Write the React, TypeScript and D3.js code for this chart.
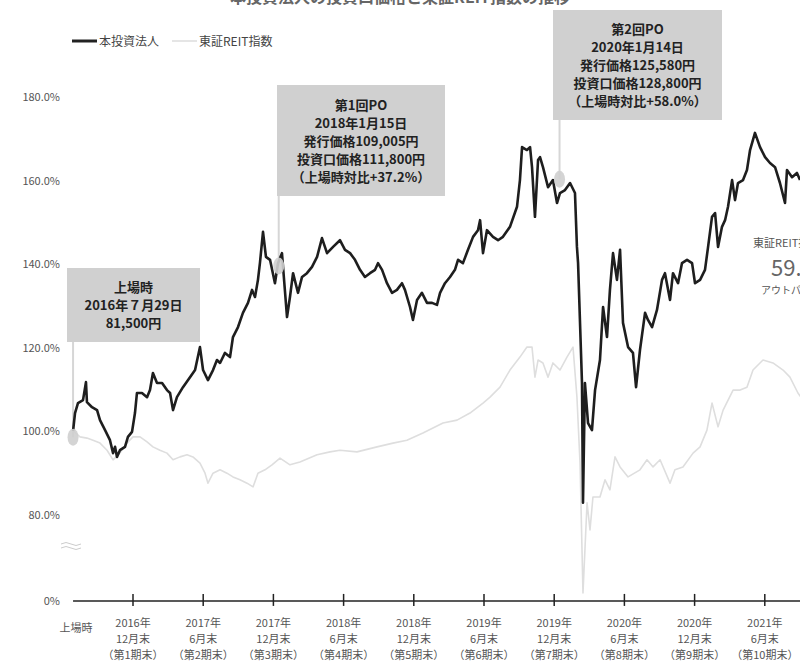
import React from "react";
import * as d3 from "d3";

// ---- data (time as decimal year, values as % of listing price) ----
const fundT = [2016.573,2016.587,2016.608,2016.644,2016.665,2016.672,2016.708,2016.744,2016.765,2016.801,2016.836,2016.858,2016.872,2016.886,2016.907,2016.943,2016.964,2016.993,2017.014,2017.028,2017.064,2017.100,2017.121,2017.142,2017.171,2017.207,2017.242,2017.264,2017.285,2017.313,2017.356,2017.406,2017.442,2017.477,2017.499,2017.534,2017.570,2017.598,2017.620,2017.655,2017.691,2017.712,2017.748,2017.783,2017.819,2017.848,2017.869,2017.890,2017.904,2017.926,2017.947,2017.976,2018.011,2018.033,2018.061,2018.097,2018.118,2018.140,2018.175,2018.204,2018.239,2018.275,2018.311,2018.346,2018.382,2018.425,2018.474,2018.510,2018.546,2018.581,2018.617,2018.652,2018.688,2018.724,2018.745,2018.774,2018.809,2018.845,2018.880,2018.916,2018.937,2018.973,2018.994,2019.023,2019.058,2019.094,2019.130,2019.165,2019.187,2019.222,2019.258,2019.293,2019.315,2019.350,2019.386,2019.422,2019.457,2019.472,2019.493,2019.521,2019.564,2019.600,2019.635,2019.685,2019.735,2019.756,2019.771,2019.806,2019.828,2019.842,2019.863,2019.885,2019.899,2019.920,2019.956,2019.991,2020.020,2020.041,2020.077,2020.113,2020.148,2020.162,2020.170,2020.198,2020.205,2020.219,2020.241,2020.269,2020.291,2020.326,2020.348,2020.376,2020.397,2020.419,2020.447,2020.469,2020.490,2020.526,2020.561,2020.583,2020.611,2020.647,2020.668,2020.697,2020.732,2020.768,2020.789,2020.825,2020.846,2020.882,2020.910,2020.946,2020.982,2021.003,2021.039,2021.074,2021.096,2021.124,2021.146,2021.167,2021.195,2021.217,2021.238,2021.267,2021.288,2021.309,2021.345,2021.373,2021.395,2021.430,2021.466,2021.502,2021.537,2021.573,2021.608,2021.644,2021.658,2021.694,2021.729,2021.751];
const fundV = [100.0,104.3,106.7,107.4,111.7,106.9,105.7,105.0,102.6,100.2,97.8,94.7,96.2,93.8,95.4,96.2,98.6,99.8,104.3,109.1,109.1,108.1,109.8,113.9,111.5,111.5,109.8,109.1,105.0,108.1,110.5,112.9,114.6,120.1,114.6,112.2,114.6,117.0,116.3,118.7,117.7,122.5,124.9,128.3,130.7,133.8,132.1,136.2,140.2,147.7,141.7,141.0,135.4,140.2,142.6,127.3,132.1,137.8,133.1,136.9,137.8,139.3,141.7,146.2,142.6,144.1,145.7,143.4,142.6,141.0,138.6,136.9,137.8,138.6,140.2,138.6,135.4,133.1,133.8,135.4,133.8,129.7,126.6,131.4,133.1,130.7,130.7,130.2,133.1,135.4,136.9,138.6,141.0,140.2,143.4,146.5,148.1,150.5,142.6,148.1,146.5,145.7,146.5,148.9,153.7,160.1,168.0,167.3,168.0,163.2,151.3,164.9,165.6,163.2,158.4,160.1,154.6,157.0,157.7,159.4,157.0,144.1,140.2,111.5,82.8,111.5,101.9,100.2,109.8,117.0,129.7,122.5,133.8,142.6,136.2,143.4,125.9,120.1,118.7,110.5,119.4,128.3,126.6,124.9,129.0,136.2,137.8,131.4,137.8,135.4,140.2,141.0,140.2,135.4,136.2,138.6,144.1,151.3,152.2,144.1,148.9,150.5,153.7,160.1,155.3,159.4,160.1,162.5,167.3,171.4,168.0,165.6,164.2,163.2,159.4,154.6,162.5,160.8,161.8,160.1];

const reitT = [2016.573,2016.623,2016.672,2016.715,2016.765,2016.815,2016.858,2016.907,2016.957,2017.000,2017.050,2017.100,2017.142,2017.192,2017.242,2017.285,2017.335,2017.385,2017.427,2017.477,2017.513,2017.534,2017.570,2017.620,2017.669,2017.712,2017.762,2017.812,2017.855,2017.890,2017.940,2017.990,2018.047,2018.118,2018.189,2018.311,2018.403,2018.474,2018.595,2018.738,2018.852,2018.951,2019.065,2019.208,2019.308,2019.400,2019.493,2019.543,2019.614,2019.685,2019.756,2019.806,2019.842,2019.863,2019.885,2019.920,2019.956,2019.991,2020.041,2020.091,2020.134,2020.162,2020.184,2020.205,2020.234,2020.255,2020.276,2020.326,2020.362,2020.397,2020.433,2020.469,2020.526,2020.611,2020.661,2020.704,2020.754,2020.825,2020.860,2020.917,2020.989,2021.039,2021.088,2021.124,2021.167,2021.203,2021.274,2021.324,2021.373,2021.416,2021.487,2021.558,2021.630,2021.679,2021.736,2021.760];
const reitV = [100.0,98.6,98.3,97.8,97.1,95.4,93.1,94.7,97.1,98.6,98.6,97.4,96.2,95.4,94.7,93.1,93.8,94.3,93.8,92.3,89.9,87.5,89.9,90.7,89.9,89.0,88.3,87.5,86.6,89.9,90.7,91.9,93.5,91.9,92.6,94.3,95.0,95.4,95.0,96.2,97.1,97.8,99.5,101.9,102.6,104.3,106.7,108.1,110.5,114.6,117.7,120.1,120.1,112.9,117.0,116.3,112.9,116.3,114.6,117.7,120.1,108.1,92.3,61.2,82.8,76.3,84.2,84.2,88.3,85.9,93.8,91.4,89.0,90.7,93.1,91.4,93.1,87.5,90.7,91.4,94.7,96.2,100.2,106.7,101.0,105.0,109.8,109.8,110.5,114.6,117.0,116.3,114.6,112.9,109.1,108.0];

const yTicks = [80, 100, 120, 140, 160, 180];
const axisFloor = 59.3; // broken axis shown as "0%"
const xTicks = [2017, 2017.5, 2018, 2018.5, 2019, 2019.5, 2020, 2020.5, 2021, 2021.5];
const xTickLabels = [
  ["2016年", "12月末", "（第1期末）"],
  ["2017年", "6月末", "（第2期末）"],
  ["2017年", "12月末", "（第3期末）"],
  ["2018年", "6月末", "（第4期末）"],
  ["2018年", "12月末", "（第5期末）"],
  ["2019年", "6月末", "（第6期末）"],
  ["2019年", "12月末", "（第7期末）"],
  ["2020年", "6月末", "（第8期末）"],
  ["2020年", "12月末", "（第9期末）"],
  ["2021年", "6月末", "（第10期末）"],
];
const seriesNames = ["本投資法人", "東証REIT指数"];
const listingT = 2016.573;
const notes = [
  { t: 2016.573, v: 98.5, lines: ["上場時", "2016年７月29日", "81,500円"] },
  { t: 2018.038, v: 139.5, lines: ["第1回PO", "2018年1月15日", "発行価格109,005円", "投資口価格111,800円", "（上場時対比+37.2%）"] },
  { t: 2020.038, v: 160.3, lines: ["第2回PO", "2020年1月14日", "発行価格125,580円", "投資口価格128,800円", "（上場時対比+58.0%）"] },
];
const noteBoxes = [
  { x0: 67, x1: 200, y0: 268, y1: 342 },
  { x0: 277, x1: 445, y0: 85, y1: 196 },
  { x0: 553, x1: 722, y0: 10, y1: 120 },
];

const FONT = "'Noto Sans CJK JP', 'Noto Sans', sans-serif";

export default function App() {
  const W = 800, H = 661;
  const x = d3.scaleLinear().domain([2017, 2021.5]).range([133, 764.8]);
  const y = d3.scaleLinear().domain([100, 180]).range([431, 97]);
  const baseY = y(axisFloor);
  const line = d3.line<[number, number]>().x((d) => x(d[0])).y((d) => y(d[1]));
  const fundPts = fundT.map((t, i) => [t, fundV[i]] as [number, number]);
  const reitPts = reitT.map((t, i) => [t, reitV[i]] as [number, number]);
  const x0 = x(listingT);

  return (
    <svg width={W} height={H} style={{ position: "absolute", left: 0, top: 0, background: "#fff" }} fontFamily={FONT}>
      <rect width={W} height={H} fill="#fff" />
      {/* clipped title */}
      <text x={400} y={3} textAnchor="middle" fontSize={16} fill="#666" fontWeight="bold">本投資法人の投資口価格と東証REIT指数の推移</text>

      {/* legend */}
      <line x1={72} x2={97} y1={41} y2={41} stroke="#222" strokeWidth={3} />
      <text x={99} y={45.5} fontSize={12} fill="#444">{seriesNames[0]}</text>
      <line x1={172} x2={197} y1={41} y2={41} stroke="#ddd" strokeWidth={1.5} />
      <text x={199} y={45.5} fontSize={12} fill="#444">{seriesNames[1]}</text>

      {/* y axis labels */}
      {yTicks.map((v) => (
        <text key={v} x={60} y={y(v) + 4} textAnchor="end" fontSize={11} fill="#555">{v.toFixed(1)}%</text>
      ))}
      <text x={60} y={baseY + 4} textAnchor="end" fontSize={11} fill="#555">0%</text>
      {/* axis break mark */}
      <path d="M61,544 q5,-3 10,0 t10,0 M61,548 q5,-3 10,0 t10,0" fill="none" stroke="#ccc" strokeWidth={1} />

      {/* annotation stems */}
      {notes.map((n, i) => (
        <line key={i} x1={x(n.t)} x2={x(n.t)} y1={noteBoxes[i].y1} y2={y(n.v)} stroke="#d6d6d6" strokeWidth={2} />
      ))}

      {/* series */}
      <path d={line(reitPts) || ""} fill="none" stroke="#dedede" strokeWidth={1.6} strokeLinejoin="round" />
      <path d={line(fundPts) || ""} fill="none" stroke="#1e1e1e" strokeWidth={2.6} strokeLinejoin="round" />

      {/* annotation markers */}
      {notes.map((n, i) => (
        <ellipse key={i} cx={x(n.t)} cy={y(n.v)} rx={5.5} ry={8.5} fill="#cfcfcf" opacity={0.9} />
      ))}

      {/* annotation boxes */}
      {notes.map((n, i) => {
        const b = noteBoxes[i];
        const cx = (b.x0 + b.x1) / 2;
        const n0 = n.lines.length;
        const lh = 18;
        const top = (b.y0 + b.y1) / 2 - ((n0 - 1) * lh) / 2;
        return (
          <g key={i}>
            <rect x={b.x0} y={b.y0} width={b.x1 - b.x0} height={b.y1 - b.y0} fill="#d0d0d0" />
            {n.lines.map((s, j) => (
              <text key={j} x={cx} y={top + j * lh + 5} textAnchor="middle" fontSize={13} fontWeight="bold" fill="#222">{s}</text>
            ))}
          </g>
        );
      })}

      {/* x axis */}
      <line x1={x0} x2={W} y1={baseY} y2={baseY} stroke="#222" strokeWidth={1.5} />
      {xTicks.map((t) => (
        <line key={t} x1={x(t)} x2={x(t)} y1={baseY - 7} y2={baseY + 5} stroke="#222" strokeWidth={1.5} />
      ))}
      <text x={x0 + 3} y={632} textAnchor="middle" fontSize={11} fill="#555">上場時</text>
      {xTicks.map((t, i) => (
        <g key={t}>
          {xTickLabels[i].map((s, j) => (
            <text key={j} x={x(t)} y={627 + j * 16} textAnchor="middle" fontSize={11} fill="#555">{s}</text>
          ))}
        </g>
      ))}

      {/* right side outperform text (clipped) */}
      <text x={753} y={247} fontSize={11} fill="#555">東証REIT指数比</text>
      <text x={771} y={276} fontSize={22} fill="#666">59.x%</text>
      <text x={761} y={294} fontSize={10} fill="#555">アウトパフォーム</text>
    </svg>
  );
}
